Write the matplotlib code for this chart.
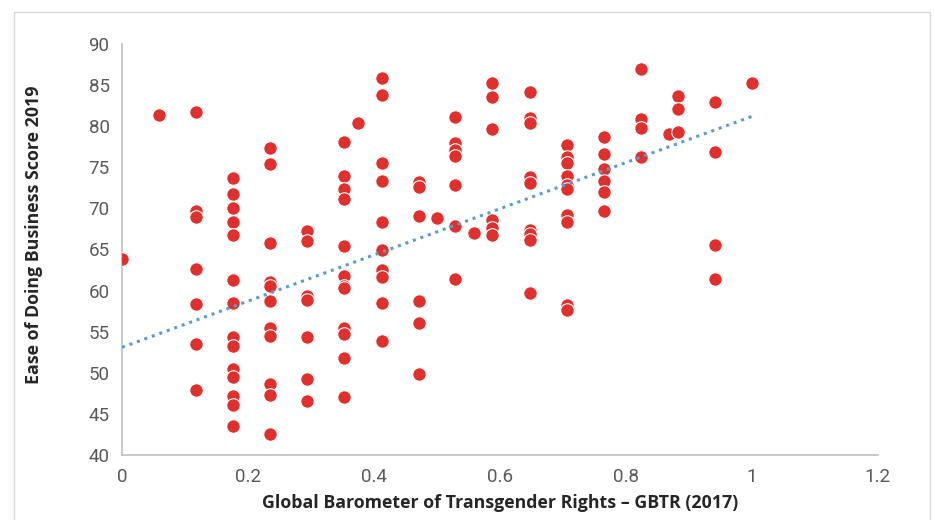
import numpy as np
import matplotlib
matplotlib.use('Agg')
from matplotlib import pyplot as plt
from matplotlib.patches import Rectangle

# GBTR score groups and their Ease of Doing Business scores
gbtr_levels = [0.0, 0.059, 0.118, 0.176, 0.235, 0.294, 0.353, 0.375, 0.412, 0.471,
               0.5, 0.529, 0.559, 0.588, 0.647, 0.706, 0.765, 0.824, 0.868, 0.882,
               0.941, 1.0]
doing_business = [
    [63.9],
    [81.4],
    [81.7, 69.7, 68.9, 62.6, 58.4, 53.5, 47.9],
    [73.7, 71.8, 70.1, 68.3, 66.8, 61.3, 58.5, 54.3, 53.2, 50.5, 49.5, 47.2, 46.1, 43.5],
    [77.4, 75.4, 65.8, 61.0, 60.5, 58.7, 55.4, 54.5, 48.6, 47.3, 42.6],
    [67.3, 66.0, 59.3, 58.8, 54.4, 49.3, 46.6],
    [78.1, 74.0, 72.4, 71.1, 65.4, 61.8, 60.5, 60.3, 55.5, 54.7, 51.8, 47.1],
    [80.4],
    [85.9, 83.8, 75.5, 73.3, 68.3, 64.9, 62.5, 61.6, 58.5, 53.9],
    [73.2, 72.6, 69.1, 58.7, 56.0, 49.9],
    [68.8],
    [81.1, 78.0, 77.1, 76.4, 72.8, 67.8, 61.4],
    [67.0],
    [85.2, 83.6, 79.7, 68.6, 67.6, 66.8],
    [84.1, 81.0, 80.4, 73.8, 73.1, 67.4, 66.9, 66.2, 59.7],
    [77.7, 76.3, 75.5, 74.0, 72.8, 72.4, 69.2, 68.4, 58.2, 57.7],
    [78.7, 76.6, 74.8, 73.3, 72.0, 69.7],
    [87.0, 80.9, 79.8, 76.4, 76.2],
    [79.0],
    [83.7, 82.1, 79.3],
    [82.9, 76.9, 65.6, 61.4],
    [85.3],
]

# linear trendline as shown in the chart (fitted on the full dataset)
trend_intercept = 53.1
trend_slope = 28.1
trend_range = [0.0, 1.0]

x_ticks = [0, 0.2, 0.4, 0.6, 0.8, 1.0, 1.2]
x_tick_labels = ['0', '0.2', '0.4', '0.6', '0.8', '1', '1.2']
y_ticks = [40, 45, 50, 55, 60, 65, 70, 75, 80, 85, 90]

x = np.concatenate([[g] * len(v) for g, v in zip(gbtr_levels, doing_business)])
y = np.concatenate([np.array(v) for v in doing_business])

fig = plt.figure(figsize=(9.35, 5.2), dpi=100)
fig.patches.append(Rectangle((14 / 935, -0.1), (930 - 14) / 935, 1.1 - 12 / 520,
                             transform=fig.transFigure, fill=False,
                             edgecolor='#D9D9D9', linewidth=1))
ax = fig.add_axes([122 / 935, 1 - 455 / 520, (878 - 122) / 935, (455 - 44) / 520])

ax.scatter(x, y, s=95, color='#E0302D', edgecolors='white', linewidths=0.8, zorder=3)

tx = np.array(trend_range)
ax.plot(tx, trend_intercept + trend_slope * tx, linestyle=(0, (1, 1.6)), color='#5B9BD5',
        linewidth=2.2, zorder=4)

ax.set_xlim(0, 1.2)
ax.set_ylim(40, 90)
ax.set_xticks(x_ticks)
ax.set_xticklabels(x_tick_labels)
ax.set_yticks(y_ticks)
for s in ['top', 'right']:
    ax.spines[s].set_visible(False)
for s in ['left', 'bottom']:
    ax.spines[s].set_color('#BFBFBF')
    ax.spines[s].set_linewidth(1.2)
ax.tick_params(length=0, pad=9, labelsize=13.5, labelcolor='#595959')
for lab in ax.get_xticklabels() + ax.get_yticklabels():
    lab.set_family(['Roboto', 'DejaVu Sans'])

ax.set_xlabel('Global Barometer of Transgender Rights \u2013 GBTR (2017)',
              fontsize=12.8, fontweight='bold', color='#262626', family='Open Sans',
              labelpad=6)
ax.set_ylabel('Ease of Doing Business Score 2019', fontsize=12.8, fontweight='bold',
              color='#262626', family='Open Sans')
ax.yaxis.set_label_coords(-0.104, 0.535)

fig.savefig('out.png', dpi=100)
